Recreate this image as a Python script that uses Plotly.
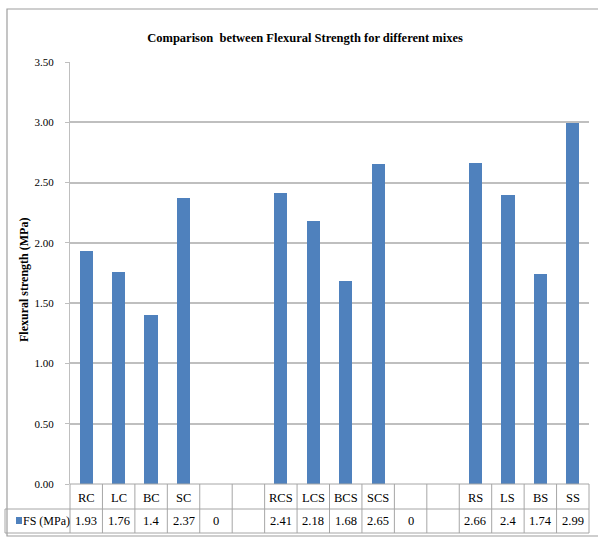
import plotly.graph_objects as go

# Mix designations (blank slots separate the three mix groups)
categories = ["RC", "LC", "BC", "SC", "", "", "RCS", "LCS", "BCS", "SCS", "", "", "RS", "LS", "BS", "SS"]
# Flexural strength, MPa (None = empty slot with no entry)
fs_values = [1.93, 1.76, 1.4, 2.37, 0, None, 2.41, 2.18, 1.68, 2.65, 0, None, 2.66, 2.4, 1.74, 2.99]
series_name = "FS (MPa)"
y_ticks = [0.0, 0.5, 1.0, 1.5, 2.0, 2.5, 3.0, 3.5]

W, H = 598, 554
ML, MR, MT, MB = 70, 9, 62, 70
plot_w = W - ML - MR
plot_h = H - MT - MB

BLUE = "#4F81BD"
GRID = "#BFBFBF"
FONT = "Liberation Serif"

def px_x(p):
    return (p - ML) / plot_w

def px_y(p):
    return (H - MB - p) / plot_h

n = len(categories)
idx = list(range(n))

fig = go.Figure()
fig.add_trace(go.Bar(
    x=idx, y=[v if v is not None else 0 for v in fs_values],
    width=0.41, marker=dict(color=BLUE, line=dict(width=0)),
    name=series_name, showlegend=False, hoverinfo="skip",
))

shapes = []
annotations = []

# Outer chart frame
shapes.append(dict(type="rect", xref="paper", yref="paper",
                   x0=px_x(7), x1=px_x(603), y0=px_y(536), y1=px_y(9),
                   line=dict(color="#9E9E9E", width=1.2), fillcolor="rgba(0,0,0,0)", layer="below"))

# Data table below the axis
row1_bot = px_y(509)
row2_bot = px_y(533)
tbl_line = dict(color="#A6A6A6", width=1)
for k in range(n + 1):
    xp = k / n
    shapes.append(dict(type="line", xref="paper", yref="paper", x0=xp, x1=xp,
                       y0=0, y1=row2_bot, line=tbl_line))
shapes.append(dict(type="line", xref="paper", yref="paper", x0=0, x1=1, y0=0, y1=0, line=tbl_line))
shapes.append(dict(type="line", xref="paper", yref="paper", x0=px_x(5), x1=1,
                   y0=row1_bot, y1=row1_bot, line=tbl_line))
shapes.append(dict(type="line", xref="paper", yref="paper", x0=px_x(5), x1=1,
                   y0=row2_bot, y1=row2_bot, line=tbl_line))
shapes.append(dict(type="line", xref="paper", yref="paper", x0=px_x(5), x1=px_x(5),
                   y0=row1_bot, y1=row2_bot, line=tbl_line))

# Legend key inside the table
shapes.append(dict(type="rect", xref="paper", yref="paper",
                   x0=px_x(16), x1=px_x(22), y0=px_y(524), y1=px_y(517),
                   fillcolor=BLUE, line=dict(width=0)))
annotations.append(dict(text=series_name, xref="paper", yref="paper",
                        x=px_x(46), y=px_y(521), showarrow=False,
                        font=dict(family=FONT, size=12, color="black"),
                        xanchor="center", yanchor="middle"))

row1_mid = px_y(498)
row2_mid = px_y(521)
for i, (c, v) in enumerate(zip(categories, fs_values)):
    if c:
        annotations.append(dict(text=c, x=i, xref="x", y=row1_mid, yref="paper",
                                showarrow=False, font=dict(family=FONT, size=12.5, color="black"),
                                xanchor="center", yanchor="middle"))
    if v is not None:
        annotations.append(dict(text=f"{v:g}", x=i, xref="x", y=row2_mid, yref="paper",
                                showarrow=False, font=dict(family=FONT, size=12.5, color="black"),
                                xanchor="center", yanchor="middle"))

# Y axis title
annotations.append(dict(text="<b>Flexural strength (MPa)</b>", xref="paper", yref="paper",
                        x=px_x(24), y=px_y(280), textangle=-90, showarrow=False,
                        font=dict(family=FONT, size=12, color="black"),
                        xanchor="center", yanchor="middle"))

fig.update_layout(
    width=W, height=H,
    margin=dict(l=ML, r=MR, t=MT, b=MB, pad=0),
    paper_bgcolor="white", plot_bgcolor="white",
    title=dict(text="<b>Comparison  between Flexural Strength for different mixes</b>",
               x=305 / W, xanchor="center", y=1 - 38 / H, yanchor="middle",
               font=dict(family=FONT, size=12.5, color="black")),
    xaxis=dict(range=[-0.5, n - 0.5], showticklabels=False, showgrid=False,
               zeroline=False, showline=False, ticks=""),
    yaxis=dict(range=[0, 3.5], tickvals=y_ticks, tickformat=".2f",
               showgrid=True, gridcolor=GRID, gridwidth=1.6,
               showline=True, linecolor=GRID, linewidth=1.2,
               ticks="outside", ticklen=4, tickcolor=GRID,
               ticklabelstandoff=9, zeroline=False,
               tickfont=dict(family=FONT, size=11, color="black")),
    shapes=shapes, annotations=annotations,
    bargap=0,
)

fig.write_html("out.html")
